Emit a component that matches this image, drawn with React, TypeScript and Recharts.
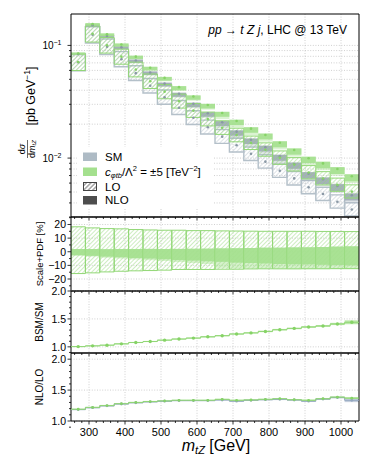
import React from 'react';
import { ComposedChart, XAxis, YAxis, CartesianGrid, ReferenceArea, Scatter, Line } from 'recharts';

// ---------------- data ----------------
const binEdges = [250, 290, 330, 370, 410, 450, 490, 530, 570, 610, 650, 690, 730, 770, 810, 850, 890, 930, 970, 1010, 1050];
// SM LO central value dσ/dm_tZ [pb/GeV]
const smLO = [0.0709, 0.1245, 0.0974, 0.0754, 0.0567, 0.0439, 0.0347, 0.028, 0.0228, 0.0188, 0.0155, 0.013, 0.0109, 0.0093, 0.0077, 0.0066, 0.0055, 0.0048, 0.0041, 0.0035];
// BSM / SM ratio
const bsmRatio = [1.005, 1.018, 1.03, 1.054, 1.078, 1.096, 1.12, 1.14, 1.157, 1.18, 1.2, 1.23, 1.25, 1.276, 1.307, 1.33, 1.356, 1.374, 1.41, 1.44];
const bsmRatioErr = [0.01, 0.01, 0.01, 0.01, 0.01, 0.01, 0.011, 0.011, 0.011, 0.012, 0.012, 0.012, 0.013, 0.013, 0.014, 0.014, 0.015, 0.016, 0.02, 0.035];
// NLO / LO K-factors
const kBSM = [1.19, 1.22, 1.25, 1.28, 1.3, 1.315, 1.325, 1.335, 1.335, 1.335, 1.35, 1.335, 1.34, 1.35, 1.36, 1.345, 1.335, 1.36, 1.385, 1.37];
const kSM = [1.185, 1.215, 1.245, 1.275, 1.295, 1.31, 1.32, 1.33, 1.33, 1.33, 1.34, 1.32, 1.335, 1.345, 1.35, 1.34, 1.32, 1.355, 1.38, 1.335];
const kErrBSM = [0.01, 0.01, 0.01, 0.01, 0.01, 0.01, 0.01, 0.01, 0.01, 0.01, 0.01, 0.01, 0.01, 0.011, 0.011, 0.011, 0.012, 0.012, 0.013, 0.015];
const kErrSM = [0.01, 0.01, 0.01, 0.01, 0.01, 0.01, 0.01, 0.01, 0.01, 0.01, 0.01, 0.012, 0.012, 0.012, 0.012, 0.013, 0.013, 0.014, 0.015, 0.03];
// Scale+PDF relative uncertainties [%]
const loUp = [18.3, 17.5, 17.0, 16.8, 16.3, 16.0, 15.8, 15.8, 15.5, 15.5, 15.3, 15.2, 15.1, 15.0, 15.0, 15.0, 15.0, 14.9, 14.9, 14.8];
const loDown = [-16.0, -15.5, -14.8, -14.3, -14.0, -13.8, -13.5, -13.0, -13.0, -13.0, -12.8, -12.8, -12.6, -12.5, -12.5, -12.5, -12.4, -12.4, -12.3, -12.3];
const nloUp = [2.0, 2.0, 1.9, 2.0, 2.0, 2.1, 2.0, 2.1, 2.2, 2.3, 2.5, 2.6, 2.8, 3.0, 3.0, 3.2, 3.3, 3.5, 3.8, 4.0];
const nloCore = [-2.5, -3.0, -3.6, -4.0, -4.6, -5.0, -5.5, -6.1, -6.5, -7.0, -7.4, -8.0, -8.3, -8.6, -9.0, -9.2, -9.3, -9.6, -9.8, -10.0];
const nloOuter = [-3.0, -3.5, -4.4, -5.0, -5.6, -6.2, -6.8, -7.6, -8.3, -9.0, -11.8, -12.3, -12.5, -12.7, -12.8, -12.9, -13.0, -13.0, -13.0, -13.0];

// ticks
const xMajor = [300, 400, 500, 600, 700, 800, 900, 1000];
const xTicks = [260, 280, 300, 320, 340, 360, 380, 400, 420, 440, 460, 480, 500, 520, 540, 560, 580, 600, 620, 640, 660, 680, 700, 720, 740, 760, 780, 800, 820, 840, 860, 880, 900, 920, 940, 960, 980, 1000, 1020, 1040];
const mainYMajor = [0.01, 0.1];
const mainYTicks = [0.003, 0.004, 0.005, 0.006, 0.007, 0.008, 0.009, 0.01, 0.02, 0.03, 0.04, 0.05, 0.06, 0.07, 0.08, 0.09, 0.1];
const scaleYMajor = [-20, -10, 0, 10, 20];
const scaleYTicks = [-25, -20, -15, -10, -5, 0, 5, 10, 15, 20, 25];
const ratioYMajor = [1.0, 1.5, 2.0];
const ratioYTicks = [0.9, 1.0, 1.1, 1.2, 1.3, 1.4, 1.5, 1.6, 1.7, 1.8, 1.9, 2.0];

// domains
const X_DOMAIN = [250, 1050];
const MAIN_DOMAIN = [0.003, 0.19];
const SCALE_DOMAIN = [-28.8, 25.5];
const BSM_DOMAIN = [0.89, 2.0];
const NLO_DOMAIN = [1.0, 2.1];

// ---------------- styles ----------------
const FONT = '"Liberation Sans", Arial, Helvetica, sans-serif';
const GREEN_FILL = '#a4e08e';
const GREEN_LINE = '#92d776';
const GREEN_DOT = '#86d366';
const GRAY_FILL = '#9eabb6';
const GRAY_LINE = '#b4c0c9';
const GRAY_DOT = '#8a98a5';
const BLUE_GRAY = '#93a6c0';
const GRID = '#c4c4c4';

const bins = binEdges.slice(0, -1).map((lo, i) => ({ lo, hi: binEdges[i + 1], c: (lo + binEdges[i + 1]) / 2 }));
const stepData = (vals: number[]) => binEdges.map((x, i) => ({ x, y: vals[Math.min(i, vals.length - 1)] }));

const xTick = (label: boolean) => (p: any) => {
  const v = p.payload.value;
  const major = xMajor.includes(v);
  const len = major ? 3.5 : 2;
  return (
    <g>
      <line x1={p.x} x2={p.x} y1={p.y} y2={p.y + len} stroke="#000" strokeWidth={0.8} />
      {label && major ? (
        <text x={p.x} y={p.y + 14.5} textAnchor="middle" fontSize={11} fontFamily={FONT} fill="#000">
          {v}
        </text>
      ) : null}
    </g>
  );
};

const yTick = (majors: number[], fmt: (v: number) => string) => (p: any) => {
  const v = p.payload.value;
  const major = majors.includes(v);
  const len = major ? 3.5 : 2;
  return (
    <g>
      <line x1={p.x} x2={p.x - len} y1={p.y} y2={p.y} stroke="#000" strokeWidth={0.8} />
      {major ? (
        <text x={p.x - 5} y={p.y} dy="0.36em" textAnchor="end" fontSize={10.5} fontFamily={FONT} fill="#000">
          {fmt(v)}
        </text>
      ) : null}
    </g>
  );
};

const mainYTick = (p: any) => {
  const v = p.payload.value;
  const major = mainYMajor.includes(v);
  const exp = Math.round(Math.log10(v));
  return (
    <g>
      <line x1={p.x} x2={p.x - (major ? 3.5 : 2)} y1={p.y} y2={p.y} stroke="#000" strokeWidth={0.8} />
      {major ? (
        <text x={p.x - 9.5} y={p.y} dy="0.36em" textAnchor="end" fontSize={10} fontFamily={FONT} fill="#000">
          10<tspan dy={-4} fontSize={7}>{'\u2212' + Math.abs(exp)}</tspan>
        </text>
      ) : null}
    </g>
  );
};

const dot = (color: string, r: number) => (p: any) => <circle cx={p.cx} cy={p.cy} r={r} fill={color} />;

const fmtScale = (v: number) => (v < 0 ? '\u2212' + Math.abs(v) : String(v));
const fmtRatio = (v: number) => v.toFixed(1);

const xAxis = (labels: boolean) => (
  <XAxis dataKey="x" type="number" domain={X_DOMAIN} allowDataOverflow ticks={xTicks} interval={0}
    height={1} tickLine={false} tickSize={0} tickMargin={0} axisLine={false} tick={xTick(labels)} />
);

const yAxis = (dom: number[], ticks: number[], tick: any, log = false) => (
  <YAxis dataKey="y" type="number" scale={log ? 'log' : 'linear'} domain={dom} allowDataOverflow ticks={ticks} interval={0}
    width={1} tickLine={false} tickSize={0} tickMargin={0} axisLine={false} tick={tick} />
);

const frame = (dom: number[]) => (
  <ReferenceArea key="frame" x1={X_DOMAIN[0]} x2={X_DOMAIN[1]} y1={dom[0]} y2={dom[1]} ifOverflow="visible"
    fill="none" stroke="#000" strokeWidth={1} />
);

const grid = (hValues: number[] | undefined) => (
  <CartesianGrid stroke={GRID} strokeDasharray="1 1.6" strokeWidth={0.8} verticalValues={xMajor} horizontalValues={hValues} />
);

const M = (top: number, bottom: number) => ({ top, right: 15, bottom: bottom - 1, left: 70 });

function MainPanel() {
  const areas: any[] = [];
  bins.forEach((b, i) => {
    const sm = smLO[i];
    const bsm = sm * bsmRatio[i];
    const smN = sm * kSM[i];
    const bsmN = bsm * kBSM[i];
    const f = (v: number, pct: number) => v * (1 + pct / 100);
    areas.push(<ReferenceArea key={'sl' + i} x1={b.lo} x2={b.hi} y1={f(sm, loDown[i])} y2={f(sm, loUp[i])} ifOverflow="hidden" fill="url(#hatchGray)" stroke={GRAY_LINE} strokeWidth={1.4} />);
    areas.push(<ReferenceArea key={'sno' + i} x1={b.lo} x2={b.hi} y1={f(smN, nloOuter[i])} y2={f(smN, nloUp[i])} ifOverflow="hidden" fill={GRAY_FILL} fillOpacity={0.35} stroke="none" />);
    areas.push(<ReferenceArea key={'snc' + i} x1={b.lo} x2={b.hi} y1={f(smN, nloCore[i])} y2={f(smN, nloUp[i])} ifOverflow="hidden" fill={GRAY_FILL} fillOpacity={0.9} stroke="none" />);
    areas.push(<ReferenceArea key={'bl' + i} x1={b.lo} x2={b.hi} y1={f(bsm, loDown[i])} y2={f(bsm, loUp[i])} ifOverflow="hidden" fill="url(#hatchGreen)" stroke={GREEN_LINE} strokeWidth={1} />);
    areas.push(<ReferenceArea key={'bno' + i} x1={b.lo} x2={b.hi} y1={f(bsmN, nloOuter[i])} y2={f(bsmN, nloUp[i])} ifOverflow="hidden" fill={GREEN_FILL} fillOpacity={0.4} stroke="none" />);
    areas.push(<ReferenceArea key={'bnc' + i} x1={b.lo} x2={b.hi} y1={f(bsmN, nloCore[i])} y2={f(bsmN, nloUp[i])} ifOverflow="hidden" fill={GREEN_FILL} fillOpacity={0.9} stroke="none" />);
  });
  const smDots = bins.map((b, i) => ({ x: b.c, y: smLO[i] }));
  const smNDots = bins.map((b, i) => ({ x: b.c, y: smLO[i] * kSM[i] }));
  const bsmDots = bins.map((b, i) => ({ x: b.c, y: smLO[i] * bsmRatio[i] }));
  const bsmNDots = bins.map((b, i) => ({ x: b.c, y: smLO[i] * bsmRatio[i] * kBSM[i] }));
  return (
    <ComposedChart width={374} height={223} margin={M(14, 6)}>
      {grid(mainYTicks)}
      {xAxis(false)}
      {yAxis(MAIN_DOMAIN, mainYTicks, mainYTick, true)}
      {areas}
      <Scatter data={smDots} shape={dot(GRAY_DOT, 1.3)} isAnimationActive={false} />
      <Scatter data={smNDots} shape={dot(GRAY_DOT, 1.3)} isAnimationActive={false} />
      <Scatter data={bsmDots} shape={dot(GREEN_DOT, 1.3)} isAnimationActive={false} />
      <Scatter data={bsmNDots} shape={dot(GREEN_DOT, 1.3)} isAnimationActive={false} />
      {frame(MAIN_DOMAIN)}
    </ComposedChart>
  );
}

function ScalePanel() {
  const areas: any[] = [];
  bins.forEach((b, i) => {
    areas.push(<ReferenceArea key={'l' + i} x1={b.lo} x2={b.hi} y1={loDown[i]} y2={loUp[i]} ifOverflow="hidden" fill="url(#hatchGreen)" stroke={GREEN_LINE} strokeWidth={1} />);
    areas.push(<ReferenceArea key={'o' + i} x1={b.lo} x2={b.hi} y1={nloOuter[i]} y2={nloUp[i]} ifOverflow="hidden" fill={GREEN_FILL} fillOpacity={0.45} stroke="none" />);
    areas.push(<ReferenceArea key={'c' + i} x1={b.lo} x2={b.hi} y1={nloCore[i]} y2={nloUp[i]} ifOverflow="hidden" fill={GREEN_FILL} fillOpacity={0.9} stroke="none" />);
  });
  return (
    <ComposedChart width={374} height={88} margin={M(8, 6)}>
      {grid(scaleYMajor)}
      {xAxis(false)}
      {yAxis(SCALE_DOMAIN, scaleYTicks, yTick(scaleYMajor, fmtScale))}
      {areas}
      {frame(SCALE_DOMAIN)}
    </ComposedChart>
  );
}

function BsmPanel() {
  const bands = bins.map((b, i) => (
    <ReferenceArea key={'r' + i} x1={b.lo} x2={b.hi} y1={bsmRatio[i] - bsmRatioErr[i]} y2={bsmRatio[i] + bsmRatioErr[i]}
      ifOverflow="hidden" fill={GREEN_FILL} fillOpacity={0.75} stroke="none" />
  ));
  const dots = bins.map((b, i) => ({ x: b.c, y: bsmRatio[i] }));
  return (
    <ComposedChart width={374} height={76} margin={M(8, 6)}>
      {grid(ratioYMajor)}
      {xAxis(false)}
      {yAxis(BSM_DOMAIN, ratioYTicks, yTick(ratioYMajor, fmtRatio))}
      {bands}
      <Line data={stepData(bsmRatio)} dataKey="y" type="stepAfter" stroke={GREEN_LINE} strokeWidth={1} dot={false} isAnimationActive={false} />
      <Scatter data={dots} shape={dot(GREEN_DOT, 1.7)} isAnimationActive={false} />
      {frame(BSM_DOMAIN)}
    </ComposedChart>
  );
}

function NloPanel() {
  const bands: any[] = [];
  bins.forEach((b, i) => {
    bands.push(<ReferenceArea key={'s' + i} x1={b.lo} x2={b.hi} y1={kSM[i] - kErrSM[i]} y2={kSM[i] + kErrSM[i]} ifOverflow="hidden" fill={BLUE_GRAY} fillOpacity={0.55} stroke="none" />);
    bands.push(<ReferenceArea key={'b' + i} x1={b.lo} x2={b.hi} y1={kBSM[i] - kErrBSM[i]} y2={kBSM[i] + kErrBSM[i]} ifOverflow="hidden" fill={GREEN_FILL} fillOpacity={0.75} stroke="none" />);
  });
  const smDots = bins.map((b, i) => ({ x: b.c, y: kSM[i] }));
  const bsmDots = bins.map((b, i) => ({ x: b.c, y: kBSM[i] }));
  return (
    <ComposedChart width={374} height={106} margin={M(8, 30)}>
      {grid(ratioYMajor)}
      {xAxis(true)}
      {yAxis(NLO_DOMAIN, ratioYTicks, yTick(ratioYMajor, fmtRatio))}
      {bands}
      <Line data={stepData(kSM)} dataKey="y" type="stepAfter" stroke={BLUE_GRAY} strokeWidth={1} dot={false} isAnimationActive={false} />
      <Line data={stepData(kBSM)} dataKey="y" type="stepAfter" stroke={GREEN_LINE} strokeWidth={1} dot={false} isAnimationActive={false} />
      <Scatter data={smDots} shape={dot(BLUE_GRAY, 1.4)} isAnimationActive={false} />
      <Scatter data={bsmDots} shape={dot(GREEN_DOT, 1.4)} isAnimationActive={false} />
      {frame(NLO_DOMAIN)}
    </ComposedChart>
  );
}

function Overlay() {
  return (
    <svg width={374} height={475} style={{ position: 'absolute', left: 0, top: 0, pointerEvents: 'none' }} fontFamily={FONT}>
      <defs>
        <pattern id="hatchGreen" patternUnits="userSpaceOnUse" width={3} height={3} patternTransform="rotate(45)">
          <line x1={1.5} y1={0} x2={1.5} y2={3} stroke={GREEN_LINE} strokeWidth={0.9} />
        </pattern>
        <pattern id="hatchGray" patternUnits="userSpaceOnUse" width={3} height={3} patternTransform="rotate(45)">
          <line x1={1.5} y1={0} x2={1.5} y2={3} stroke={GRAY_LINE} strokeWidth={0.9} />
        </pattern>
        <pattern id="hatchDark" patternUnits="userSpaceOnUse" width={3.2} height={3.2} patternTransform="rotate(45)">
          <line x1={1.6} y1={0} x2={1.6} y2={3.2} stroke="#555" strokeWidth={0.8} />
        </pattern>
      </defs>

      {/* title */}
      <text x={347} y={34} textAnchor="end" fontSize={12} fill="#000">
        <tspan fontStyle="italic">pp</tspan> → <tspan fontStyle="italic">t Z j</tspan>, LHC @ 13 TeV
      </text>

      {/* legend */}
      <rect x={77} y={147} width={137} height={61} fill="#fff" />
      <rect x={83} y={152.5} width={14} height={8.5} fill="#aebbc5" />
      <text x={105} y={160.5} fontSize={11.5} fill="#000">SM</text>
      <rect x={83} y={167.5} width={14} height={8.5} fill={GREEN_FILL} />
      <text x={105} y={175.5} fontSize={11.5} fill="#000">
        <tspan fontStyle="italic">c</tspan>
        <tspan fontSize={7.5} dy={2.5} fontStyle="italic">φtb</tspan>
        <tspan dy={-2.5}>/Λ</tspan>
        <tspan fontSize={7.5} dy={-4.5}>2</tspan>
        <tspan dy={4.5}> = ±5 [TeV</tspan>
        <tspan fontSize={7.5} dy={-4.5}>−2</tspan>
        <tspan dy={4.5}>]</tspan>
      </text>
      <rect x={83.5} y={182.5} width={13} height={8} fill="url(#hatchDark)" stroke="#444" strokeWidth={1} />
      <text x={105} y={190.5} fontSize={11.5} fill="#000">LO</text>
      <rect x={83} y={196} width={14} height={8.5} fill="#4d4d4d" />
      <text x={105} y={204} fontSize={11.5} fill="#000">NLO</text>

      {/* main y label */}
      <g transform="translate(35,96) rotate(-90)">
        <text x={0} y={0} textAnchor="middle" fontSize={12.5} fill="#000">
          [pb GeV<tspan fontSize={8.5} dy={-5}>−1</tspan><tspan dy={5}>]</tspan>
        </text>
      </g>
      <g transform="translate(0,149) rotate(-90)">
        <text x={0} y={25} textAnchor="middle" fontSize={9} fill="#000">
          d<tspan fontStyle="italic">σ</tspan>
        </text>
        <line x1={-9} x2={9} y1={27.5} y2={27.5} stroke="#000" strokeWidth={0.6} />
        <text x={0} y={34.5} textAnchor="middle" fontSize={9} fill="#000">
          d<tspan fontStyle="italic">m</tspan><tspan fontSize={6} dy={1.5} fontStyle="italic">tZ</tspan>
        </text>
      </g>

      {/* ratio panel y labels */}
      <g transform="translate(43,254) rotate(-90)">
        <text x={0} y={0} textAnchor="middle" fontSize={9.5} fill="#000">Scale+PDF [%]</text>
      </g>
      <g transform="translate(42.5,322) rotate(-90)">
        <text x={0} y={0} textAnchor="middle" fontSize={10} fill="#000">BSM/SM</text>
      </g>
      <g transform="translate(43,387) rotate(-90)">
        <text x={0} y={0} textAnchor="middle" fontSize={10} fill="#000">NLO/LO</text>
      </g>

      {/* x label */}
      <text x={216} y={451} textAnchor="middle" fontSize={16} fill="#000">
        <tspan fontStyle="italic">m</tspan>
        <tspan fontSize={11} dy={3} fontStyle="italic">tZ</tspan>
        <tspan dy={-3}> [GeV]</tspan>
      </text>
    </svg>
  );
}

export default function App() {
  return (
    <div style={{ position: 'absolute', left: 0, top: 0, width: 374, height: 475, background: '#fff', fontFamily: FONT, overflow: 'hidden' }}>
      <div style={{ position: 'absolute', left: 0, top: 0 }}><MainPanel /></div>
      <div style={{ position: 'absolute', left: 0, top: 209 }}><ScalePanel /></div>
      <div style={{ position: 'absolute', left: 0, top: 283 }}><BsmPanel /></div>
      <div style={{ position: 'absolute', left: 0, top: 345 }}><NloPanel /></div>
      <Overlay />
    </div>
  );
}
